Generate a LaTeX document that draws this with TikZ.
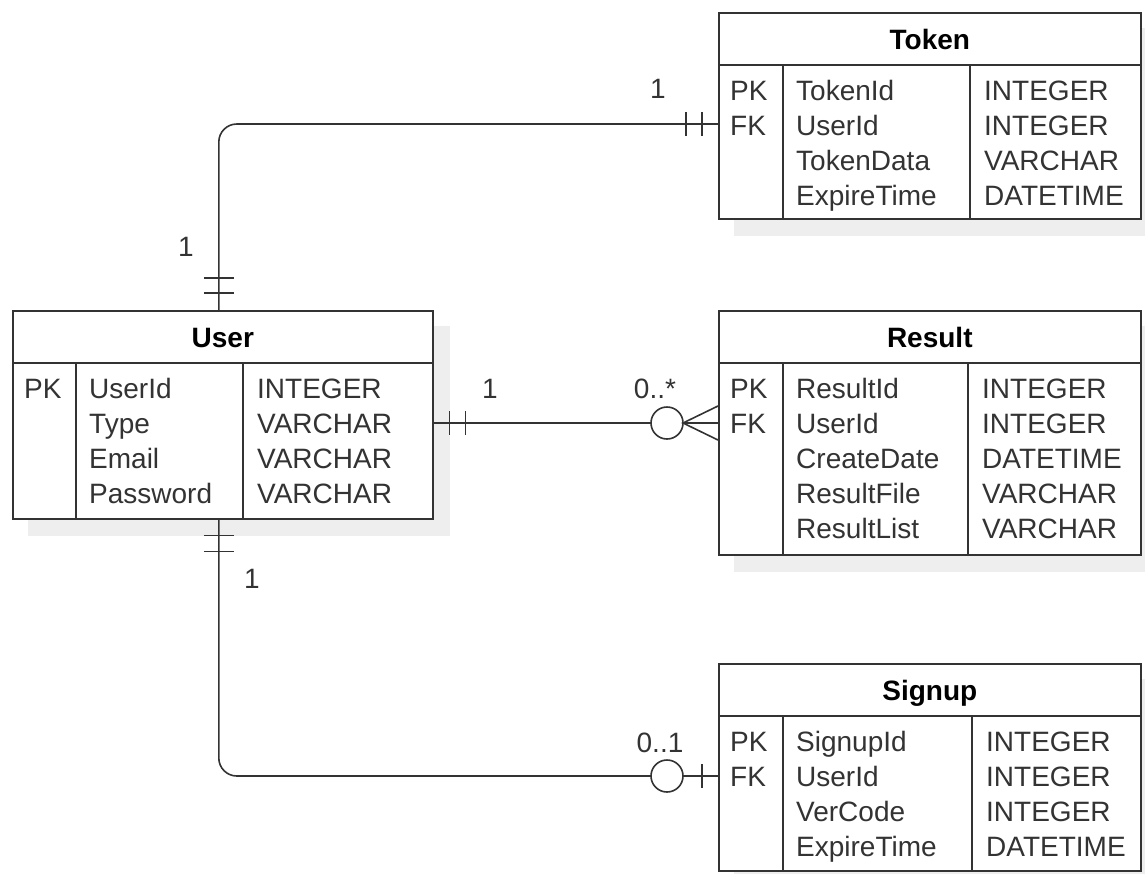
\documentclass[tikz,border=0pt]{standalone}
\usepackage{fontspec}
\setmainfont{Liberation Sans}
\usetikzlibrary{calc,backgrounds}
\definecolor{ln}{HTML}{333333}
\definecolor{tx}{HTML}{333333}
\definecolor{shd}{HTML}{EEEEEE}
\tikzset{
  tbl/.style={draw=ln, line width=1.6pt, fill=white, rectangle, inner sep=0pt, anchor=north west},
  sepline/.style={draw=ln, line width=1.6pt},
  cell/.style={anchor=base west, inner sep=0pt, text=tx, font=\fontsize{28}{30}\selectfont},
  ttl/.style={anchor=base, inner sep=0pt, text=black, font=\fontsize{28}{30}\selectfont\bfseries},
  rel/.style={draw=ln, line width=1.6pt},
  lbl/.style={anchor=base, inner sep=0pt, text=tx, font=\fontsize{28}{30}\selectfont},
}
\newcommand{\ertable}[9]{%
  \node[tbl, minimum width=#4pt, minimum height=#5pt] (#1) at (#2,#3) {};
  \begin{scope}[on background layer]
    \fill[shd] ($(#1.north west)+(16,16)$) rectangle ($(#1.south east)+(16,16)$);
  \end{scope}
  \draw[sepline] ($(#1.north west)+(0,53)$) -- ($(#1.north east)+(0,53)$);
  \draw[sepline] ($(#1.north west)+(#6,53)$) -- ($(#1.south west)+(#6,0)$);
  \draw[sepline] ($(#1.north west)+(#7,53)$) -- ($(#1.south west)+(#7,0)$);
  \node[ttl] (#1-title) at ($(#1.north)+(0,37)$) {#8};
  \foreach \k/\n/\t [count=\i] in {#9} {
    \node[cell] (#1-k\i) at ($(#1.north west)+(12,88+35*\i-35)$) {\k};
    \node[cell] (#1-n\i) at ($(#1.north west)+(#6+13,88+35*\i-35)$) {\n};
    \node[cell] (#1-t\i) at ($(#1.north west)+(#7+14,88+35*\i-35)$) {\t};
  }
}
\begin{document}
\begin{tikzpicture}[x=1pt,y=-1pt]
\useasboundingbox (0,0) rectangle (1145,873);

\ertable{token}{718}{12}{422}{206}{65}{252}{Token}{PK/TokenId/INTEGER, FK/UserId/INTEGER, /TokenData/VARCHAR, /ExpireTime/DATETIME}
\ertable{user}{12}{310}{420}{208}{64}{231}{User}{PK/UserId/INTEGER, /Type/VARCHAR, /Email/VARCHAR, /Password/VARCHAR}
\ertable{result}{718}{310}{422}{244}{65}{250}{Result}{PK/ResultId/INTEGER, FK/UserId/INTEGER, /CreateDate/DATETIME, /ResultFile/VARCHAR, /ResultList/VARCHAR}
\ertable{signup}{718}{663}{422}{207}{65}{254}{Signup}{PK/SignupId/INTEGER, FK/UserId/INTEGER, /VerCode/INTEGER, /ExpireTime/DATETIME}

% User -- Token
\coordinate (uT) at ($(user.north)+(-4,0)$);
\coordinate (tE) at ($(token.north west)+(0,112)$);
\draw[rel, rounded corners=18pt] (uT) |- (tE);
\draw[rel] ($(uT)+(-15,-17)$) -- ++(30,0);
\draw[rel] ($(uT)+(-15,-32)$) -- ++(30,0);
\draw[rel] ($(tE)+(-16,-12)$) -- ++(0,24);
\draw[rel] ($(tE)+(-32,-12)$) -- ++(0,24);
\node[lbl] (l1) at (186,256) {1};
\node[lbl] (l2) at (658,98) {1};

% User -- Result
\coordinate (uR) at ($(user.north east)+(0,113)$);
\coordinate (rE) at ($(result.north west)+(0,113)$);
\draw[rel] (uR) -- ($(rE)+(-67,0)$);
\draw[rel] ($(uR)+(16,-12)$) -- ++(0,24);
\draw[rel] ($(uR)+(32,-12)$) -- ++(0,24);
\draw[rel] ($(rE)+(-51,0)$) circle[radius=16pt];
\draw[rel] ($(rE)+(0,-17)$) -- ($(rE)+(-35,0)$) -- ($(rE)+(0,17)$);
\draw[rel] ($(rE)+(-35,0)$) -- (rE);
\node[lbl] (l3) at (490,398) {1};
\node[lbl] (l4) at (655,398) {0..*};

% User -- Signup
\coordinate (uB) at ($(user.south)+(-4,0)$);
\coordinate (sE) at ($(signup.north west)+(0,113)$);
\draw[rel, rounded corners=18pt] (uB) |- ($(sE)+(-67,0)$);
\draw[rel] ($(uB)+(-15,16)$) -- ++(30,0);
\draw[rel] ($(uB)+(-15,32)$) -- ++(30,0);
\draw[rel] ($(sE)+(-51,0)$) circle[radius=16pt];
\draw[rel] ($(sE)+(-35,0)$) -- (sE);
\draw[rel] ($(sE)+(-16,-12)$) -- ++(0,24);
\node[lbl] (l5) at (252,588) {1};
\node[lbl] (l6) at (660,752) {0..1};
\end{tikzpicture}
\end{document}
